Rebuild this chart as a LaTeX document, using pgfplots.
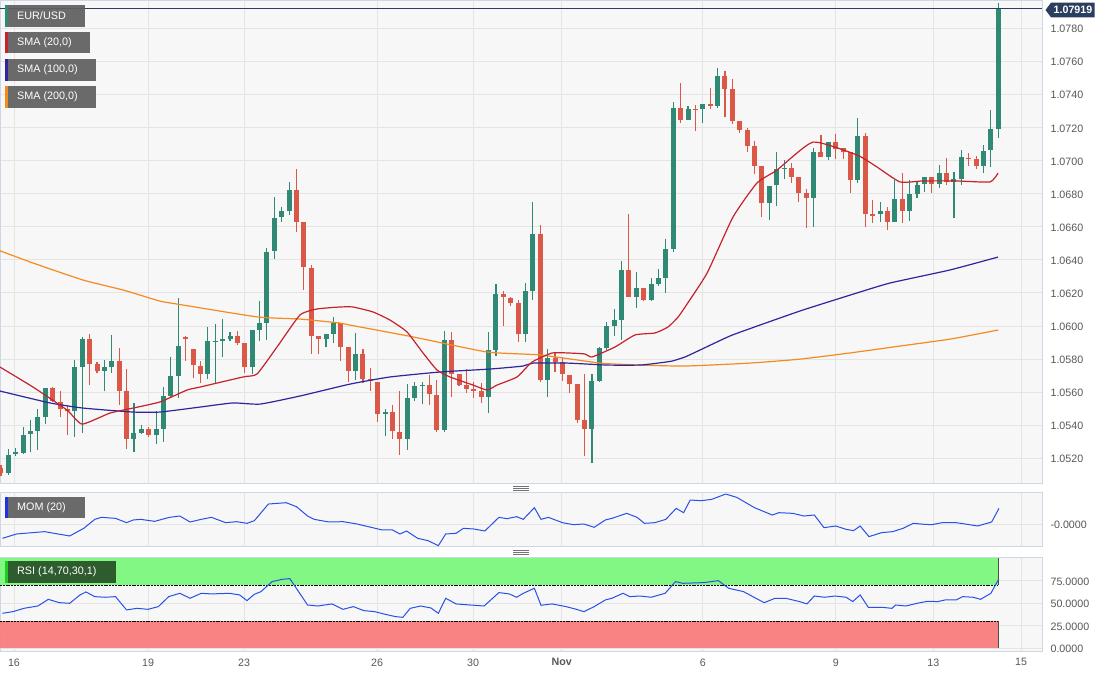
\documentclass[border=0pt]{standalone}
\usepackage{pgfplots}
\pgfplotsset{compat=1.18}
\usepackage{pgfplotstable}
\usepackage{fontspec}
\setmainfont{Liberation Sans}
\definecolor{bull}{RGB}{47,137,116}
\definecolor{bear}{RGB}{217,88,72}
\definecolor{smaA}{RGB}{196,34,44}
\definecolor{smaB}{RGB}{46,38,156}
\definecolor{smaC}{RGB}{245,138,31}
\definecolor{panelbg}{RGB}{247,247,247}
\definecolor{gridc}{RGB}{228,228,228}
\definecolor{framec}{RGB}{208,215,228}
\definecolor{tickc}{RGB}{88,88,88}
\definecolor{navy}{RGB}{44,62,94}
\definecolor{indblue}{RGB}{40,80,230}
\definecolor{boxgray}{RGB}{96,96,96}
\definecolor{rsigreen}{RGB}{125,248,125}
\definecolor{rsired}{RGB}{248,125,125}
\definecolor{rsibox}{RGB}{46,92,46}
\definecolor{rsistrip}{RGB}{30,205,30}
\definecolor{momstrip}{RGB}{30,50,235}

\pgfplotstableread{
k O H L C
1 1.05111 1.05256 1.05099 1.05220
2 1.05226 1.05262 1.05214 1.05238
3 1.05232 1.05389 1.05226 1.05341
4 1.05347 1.05432 1.05238 1.05365
5 1.05365 1.05498 1.05250 1.05450
6 1.05450 1.05625 1.05407 1.05625
10 1.05486 1.05794 1.05329 1.05752
11 1.05752 1.05934 1.05353 1.05921
14 1.05728 1.05794 1.05607 1.05752
15 1.05752 1.05946 1.05716 1.05788
18 1.05317 1.05535 1.05238 1.05353
19 1.05353 1.05401 1.05347 1.05377
21 1.05341 1.05486 1.05287 1.05377
22 1.05377 1.05631 1.05299 1.05577
23 1.05577 1.05813 1.05565 1.05698
24 1.05698 1.06169 1.05565 1.05879
28 1.05710 1.05994 1.05680 1.05909
29 1.05903 1.06012 1.05655 1.05909
30 1.05909 1.06042 1.05813 1.05921
31 1.05921 1.05964 1.05909 1.05940
34 1.05752 1.05976 1.05710 1.05976
35 1.05976 1.06151 1.05909 1.06018
36 1.06018 1.06472 1.05915 1.06447
37 1.06453 1.06780 1.06405 1.06653
38 1.06659 1.06719 1.06629 1.06695
39 1.06695 1.06871 1.06671 1.06822
44 1.05921 1.05952 1.05873 1.05952
45 1.05952 1.06054 1.05897 1.06018
48 1.05728 1.05958 1.05674 1.05831
52 1.05468 1.05498 1.05335 1.05480
55 1.05317 1.05649 1.05250 1.05565
56 1.05565 1.05661 1.05547 1.05637
57 1.05637 1.05661 1.05528 1.05643
60 1.05371 1.05970 1.05359 1.05915
66 1.05571 1.05964 1.05474 1.05855
67 1.05855 1.06254 1.05819 1.06193
71 1.05952 1.06260 1.05903 1.06212
72 1.06212 1.06750 1.06157 1.06556
74 1.05674 1.05861 1.05571 1.05806
80 1.05377 1.05710 1.05172 1.05667
81 1.05667 1.05873 1.05661 1.05867
82 1.05867 1.06024 1.05855 1.06000
83 1.06000 1.06103 1.05940 1.06036
84 1.06036 1.06393 1.05915 1.06339
86 1.06175 1.06326 1.06109 1.06230
88 1.06157 1.06290 1.06151 1.06254
89 1.06254 1.06345 1.06242 1.06290
90 1.06290 1.06526 1.06200 1.06466
91 1.06466 1.07354 1.06447 1.07318
93 1.07245 1.07330 1.07245 1.07312
95 1.07312 1.07342 1.07227 1.07342
97 1.07330 1.07560 1.07318 1.07512
104 1.06744 1.06846 1.06641 1.06846
105 1.06852 1.07052 1.06726 1.06949
106 1.06949 1.07004 1.06889 1.06955
110 1.06774 1.07076 1.06599 1.07052
112 1.07022 1.07112 1.07004 1.07112
116 1.06883 1.07258 1.06865 1.07149
119 1.06677 1.06750 1.06629 1.06695
121 1.06629 1.06883 1.06629 1.06768
123 1.06695 1.06883 1.06635 1.06798
124 1.06798 1.06877 1.06774 1.06852
125 1.06859 1.06901 1.06810 1.06901
127 1.06859 1.06973 1.06834 1.06925
129 1.06871 1.06931 1.06653 1.06889
130 1.06889 1.07064 1.06852 1.07022
133 1.06967 1.07094 1.06925 1.07058
134 1.07064 1.07306 1.06961 1.07191
135 1.07191 1.07955 1.07137 1.07919
}\bulltab

\pgfplotstableread{
k O H L C
0 1.05142 1.05160 1.05093 1.05111
7 1.05625 1.05631 1.05541 1.05547
8 1.05541 1.05607 1.05450 1.05498
9 1.05498 1.05522 1.05341 1.05486
12 1.05921 1.05952 1.05643 1.05770
13 1.05770 1.05782 1.05716 1.05728
16 1.05788 1.05867 1.05522 1.05607
17 1.05607 1.05740 1.05256 1.05317
20 1.05377 1.05389 1.05329 1.05341
25 1.05934 1.05940 1.05788 1.05921
26 1.05861 1.05861 1.05686 1.05764
27 1.05758 1.05788 1.05655 1.05710
32 1.05940 1.05970 1.05885 1.05897
33 1.05897 1.05897 1.05716 1.05752
40 1.06822 1.06949 1.06568 1.06629
41 1.06629 1.06629 1.06218 1.06357
42 1.06351 1.06369 1.05831 1.05940
43 1.05940 1.05940 1.05831 1.05921
46 1.06018 1.06018 1.05788 1.05873
47 1.05873 1.05873 1.05661 1.05728
49 1.05831 1.05861 1.05655 1.05680
50 1.05680 1.05746 1.05607 1.05667
51 1.05661 1.05661 1.05420 1.05468
53 1.05480 1.05522 1.05317 1.05365
54 1.05359 1.05607 1.05220 1.05317
58 1.05643 1.05704 1.05522 1.05589
59 1.05583 1.05674 1.05359 1.05371
61 1.05915 1.05964 1.05571 1.05710
62 1.05710 1.05710 1.05637 1.05643
63 1.05643 1.05740 1.05595 1.05619
64 1.05619 1.05661 1.05565 1.05607
65 1.05607 1.05655 1.05535 1.05571
68 1.06193 1.06212 1.06000 1.06175
69 1.06169 1.06175 1.06121 1.06139
70 1.06139 1.06157 1.05903 1.05952
73 1.06556 1.06611 1.05661 1.05674
75 1.05806 1.05837 1.05722 1.05782
76 1.05782 1.05813 1.05667 1.05710
77 1.05704 1.05704 1.05595 1.05649
78 1.05649 1.05649 1.05414 1.05432
79 1.05432 1.05710 1.05214 1.05377
85 1.06339 1.06677 1.06175 1.06175
87 1.06230 1.06230 1.06151 1.06157
92 1.07318 1.07469 1.07227 1.07245
94 1.07312 1.07336 1.07179 1.07306
96 1.07342 1.07439 1.07312 1.07330
98 1.07512 1.07542 1.07264 1.07433
99 1.07433 1.07493 1.07221 1.07239
100 1.07239 1.07239 1.07167 1.07185
101 1.07185 1.07197 1.07052 1.07088
102 1.07088 1.07119 1.06919 1.06967
103 1.06967 1.06967 1.06659 1.06744
107 1.06955 1.06986 1.06865 1.06901
108 1.06901 1.06901 1.06750 1.06804
109 1.06804 1.06828 1.06593 1.06774
111 1.07052 1.07155 1.07022 1.07022
113 1.07112 1.07161 1.07010 1.07070
114 1.07076 1.07076 1.07010 1.07052
115 1.07052 1.07052 1.06804 1.06883
117 1.07149 1.07167 1.06599 1.06677
118 1.06677 1.06762 1.06623 1.06665
120 1.06695 1.06719 1.06580 1.06629
122 1.06768 1.06925 1.06623 1.06695
126 1.06901 1.06901 1.06804 1.06859
128 1.06925 1.07016 1.06852 1.06871
131 1.07016 1.07046 1.06967 1.07010
132 1.07010 1.07028 1.06949 1.06967
}\beartab

\pgfplotsset{
  panel/.style={
    scale only axis, width=1042pt,
    xmin=-0.135, xmax=140.92,
    axis background/.style={fill=panelbg},
    axis line style={draw=framec, line width=0.8pt},
    xmajorgrids, ymajorgrids,
    major grid style={draw=gridc, line width=0.9pt},
    xtick={1.76,19.9,32.9,50.9,63.9,75.9,95.0,113.0,126.2,138.1},
    major tick length=0pt,
    ticklabel style={font=\fontsize{10.7}{12}\selectfont, text=tickc},
    yticklabel pos=right,
    yticklabel style={anchor=west, xshift=5pt, yshift=-0.8pt},
    scaled ticks=false,
    /pgf/number format/assume math mode=true,
    clip=true,
  },
  candle/.style={draw=none, mark=none, forget plot,
    error bars/y dir=plus, error bars/y explicit, error bars/error mark=none},
}

\begin{document}
\begin{tikzpicture}[x=1pt,y=1pt]
\useasboundingbox[fill=white] (0pt,0pt) rectangle (1113pt,675pt);

% ---------------- main price panel ----------------
\begin{axis}[panel, at={(0pt,192pt)}, anchor=south west, height=483pt,
  ymin=1.05051, ymax=1.07971,
  ytick={1.052,1.054,1.056,1.058,1.060,1.062,1.064,1.066,1.068,1.070,1.072,1.074,1.076,1.078},
  xticklabels={},
  yticklabel style={/pgf/number format/.cd, fixed, fixed zerofill, precision=4},
]
% wicks
\addplot[candle, error bars/error bar style={draw=bull, line width=1.1pt}]
  table[x=k, y=L, y error plus expr={\thisrow{H}-\thisrow{L}}] {\bulltab};
\addplot[candle, error bars/error bar style={draw=bear, line width=1.1pt}]
  table[x=k, y=L, y error plus expr={\thisrow{H}-\thisrow{L}}] {\beartab};
% bodies
\addplot[candle, error bars/error bar style={draw=bull, line width=5pt}]
  table[x=k, y=O, y error plus expr={max(\thisrow{C}-\thisrow{O},0.00004)}] {\bulltab};
\addplot[candle, error bars/error bar style={draw=bear, line width=5pt}]
  table[x=k, y=C, y error plus expr={max(\thisrow{O}-\thisrow{C},0.00004)}] {\beartab};

% SMA 200
\addplot[smaC, line width=1.2pt, smooth, tension=0.3] coordinates {
(-0.14,1.06455)(4.33,1.06381)(11.1,1.06278)(16.5,1.06218)(21.5,1.06151)(23.8,1.06133)
(34.7,1.06055)(40.5,1.06042)(45.9,1.06018)(47.2,1.06006)(55.8,1.05934)(65.8,1.05843)
(73.0,1.05825)(81.1,1.05776)(86.5,1.05764)(92.6,1.05758)(101.4,1.05776)(108.2,1.05800)
(114.9,1.05837)(121.7,1.05879)(128.5,1.05921)(135,1.05976)};
% SMA 100
\addplot[smaB, line width=1.2pt, smooth, tension=0.3] coordinates {
(-0.14,1.05607)(6.63,1.05535)(11.1,1.05504)(17.87,1.05480)(21.52,1.05480)(26.94,1.05510)
(31.4,1.05535)(35.06,1.05528)(40.48,1.05577)(47.25,1.05649)(52.66,1.05692)(59.43,1.05722)
(66.2,1.05740)(70.67,1.05758)(72.02,1.05776)(76.62,1.05776)(82.04,1.05764)(86.5,1.05764)
(88.94,1.05776)(90.83,1.05788)(92.6,1.05813)(94.63,1.05855)(98.69,1.05940)(102.75,1.06006)
(108.57,1.06097)(115.88,1.06200)(120.35,1.06260)(128.47,1.06339)(134.97,1.06417)};
% SMA 20
\addplot[smaA, line width=1.2pt, smooth, tension=0.3] coordinates {
(-0.14,1.05752)(4.33,1.05631)(8.93,1.05492)(10.97,1.05407)(14.76,1.05474)(17.87,1.05504)
(21.52,1.05541)(25.18,1.05613)(26.94,1.05631)(32.76,1.05692)(34.66,1.05710)(37.36,1.05873)
(40.48,1.06067)(42.78,1.06103)(45.89,1.06115)(47.65,1.06115)(50.36,1.06085)(52.66,1.06036)
(54.96,1.05964)(57.13,1.05837)(59.02,1.05734)(60.78,1.05692)(63.9,1.05643)(65.79,1.05613)
(67.14,1.05643)(69.85,1.05692)(71.88,1.05782)(74.59,1.05837)(76.76,1.05837)(79.06,1.05831)
(80.0,1.05813)(83.11,1.05873)(85.83,1.05946)(88.53,1.05958)(90.29,1.05994)(91.65,1.06054)
(92.6,1.06115)(95.58,1.06320)(99.09,1.06659)(102.34,1.06865)(105.05,1.06943)(109.92,1.07112)
(115.88,1.07034)(118.59,1.06961)(121.7,1.06871)(124.81,1.06877)(129.41,1.06877)(133.88,1.06871)
(134.97,1.06925)};
% current price line
\addplot[navy, line width=1pt] coordinates {(-0.135,1.07919)(140.92,1.07919)};
\end{axis}

% ---------------- momentum panel ----------------
\begin{axis}[panel, at={(0pt,128.3pt)}, anchor=south west, height=54pt,
  ymin=-0.01453, ymax=0.02003,
  ytick={0}, yticklabels={-0.0000}, xticklabels={},
]
\addplot[indblue, line width=1pt] coordinates {
(0.2,-0.00916)(2.1,-0.00639)(5.9,-0.0049)(9.3,-0.00767)(11.2,-0.00277)(12.7,0.00298)(13.6,0.00426)
(15.5,0.00362)(17.0,0.00085)(17.9,0.00256)(18.9,0.00298)(20.8,0.0017)(22.8,0.00426)(24.2,0.00511)
(25.6,0.00128)(27.1,0.00298)(28.5,0.00426)(30.4,0.00085)(31.9,0.00149)(33.3,0.00043)(34.3,0.00213)
(36.2,0.01278)(38.6,0.01363)(40.0,0.01108)(41.5,0.00511)(42.4,0.00298)(44.4,0.00128)(46.3,0.00149)
(48.2,0)(50.1,-0.00213)(51.6,-0.00383)(53.0,-0.00383)(54.0,-0.00639)(54.9,-0.00447)(56.4,-0.00916)
(57.8,-0.01065)(59.2,-0.01385)(60.2,-0.00639)(61.6,-0.00596)(62.6,-0.00277)(64.0,-0.0032)(65.5,-0.00447)
(67.4,0.00426)(68.5,0.00341)(69.8,0.00469)(70.7,0.00298)(72.2,0.01044)(73.1,0.00298)(74.1,0.00426)
(76.0,0.00085)(77.5,-0.00043)(78.9,0)(80.3,-0.00213)(81.8,0.00256)(82.7,0.00362)(84.7,0.00682)
(86.1,0.00426)(87.1,0.00043)(88.5,0.00085)(90.0,0.00298)(91.4,0.01001)(92.4,0.00724)(93.3,0.01534)
(94.8,0.01491)(96.2,0.01576)(98.1,0.01917)(99.6,0.01704)(102.0,0.01044)(104.4,0.00575)(105.3,0.00724)
(107.2,0.00682)(108.7,0.00511)(110.1,0.00575)(111.4,-0.00234)(113.0,-0.00128)(114.4,-0.00341)
(115.4,-0.00426)(116.3,-0.00128)(117.5,-0.00809)(119.2,-0.00554)(120.7,-0.0049)(122.1,-0.00277)
(123.5,0.00043)(125.0,-0.00021)(126.0,-0.00043)(127.4,0.00085)(129.3,0.00085)(130.8,-0.00021)
(132.2,-0.00128)(134.1,0.00128)(135.1,0.01001)};
\end{axis}

% ---------------- RSI panel ----------------
\begin{axis}[panel, at={(0pt,24pt)}, anchor=south west, height=93.7pt,
  ymin=-3, ymax=101.1,
  ytick={0,25,50,75},
  yticklabel style={/pgf/number format/.cd, fixed, fixed zerofill, precision=4},
  xticklabels={16,19,23,26,30,\textbf{Nov},6,9,13,15},
  xticklabel style={anchor=north, yshift=-4pt},
]
\fill[rsigreen, fill opacity=0.95] (axis cs:-0.135,70) rectangle (axis cs:135,100);
\fill[rsired, fill opacity=0.95] (axis cs:-0.135,0) rectangle (axis cs:135,30);
\draw[black, line width=0.6pt, dash pattern=on 2pt off 0.8pt] (axis cs:-0.135,70) -- (axis cs:135,70);
\draw[black, line width=0.6pt, dash pattern=on 2pt off 0.8pt] (axis cs:-0.135,30) -- (axis cs:135,30);
\draw[black!70, line width=0.6pt] (axis cs:135,70) -- (axis cs:135,100);
\draw[black!70, line width=0.6pt] (axis cs:135,0) -- (axis cs:135,30);
\addplot[indblue, line width=1pt] coordinates {
(0.2,38.9)(1.6,40.7)(3.1,44.4)(5.0,47.0)(6.4,54.4)(7.9,50.7)(9.3,50.0)(10.7,59.3)(11.5,62.6)
(12.7,57.4)(14.1,56.7)(15.5,57.4)(17.0,42.6)(18.4,44.4)(19.9,43.3)(21.3,46.3)(22.7,57.4)(24.2,61.1)
(25.6,55.6)(27.1,61.1)(28.5,60.4)(30.9,61.1)(32.3,59.3)(33.3,53.0)(34.3,60.0)(35.2,63.0)(36.7,74.1)
(38.1,76.7)(39.1,77.4)(41.5,48.1)(42.9,47.0)(44.8,49.3)(46.3,43.3)(47.7,46.3)(49.1,41.9)(50.6,40.7)
(52.0,37.8)(53.4,35.2)(54.4,34.4)(55.4,44.4)(56.8,47.0)(58.2,44.8)(59.2,38.9)(60.2,55.6)(61.6,49.3)
(63.5,48.1)(65.4,47.0)(67.4,61.9)(68.8,60.4)(69.8,56.7)(70.7,61.1)(72.2,66.7)(73.1,47.8)(74.6,49.3)
(76.5,46.3)(77.9,43.3)(78.9,40.7)(80.3,46.3)(81.8,53.7)(82.7,55.6)(84.2,61.1)(85.1,57.4)(86.5,58.1)
(88.0,56.7)(89.9,61.1)(91.3,74.1)(92.3,72.2)(95.2,73.0)(97.1,75.2)(98.5,66.7)(100.5,63.0)(103.3,50.7)
(104.8,55.6)(106.2,55.6)(108.1,51.9)(109.1,49.3)(110.1,58.1)(111.5,56.7)(112.9,58.1)(114.4,56.7)
(115.3,51.9)(116.3,59.3)(117.4,45.6)(119.2,45.6)(120.6,44.4)(121.1,48.1)(122.5,47.0)(124.0,50.0)
(125.4,52.2)(126.8,51.9)(127.8,53.7)(129.3,53.7)(130.2,57.4)(131.6,56.7)(132.6,54.4)(134.0,61.1)
(135.0,75.9)};
\end{axis}

% ---------------- overlays: labels ----------------
\tikzset{lbl/.style={anchor=west, text=white, inner sep=0pt, font=\fontsize{10.8}{12}\selectfont}}
% EUR/USD
\fill[boxgray, fill opacity=0.93] (5,648.3) rectangle (85,670);
\fill[bull] (5,648.3) rectangle (7.6,670);
\node[lbl] at (17,659.2) {EUR/USD};
% SMA 20
\fill[boxgray, fill opacity=0.93] (5,621.7) rectangle (90,643.3);
\fill[smaA] (5,621.7) rectangle (7.6,643.3);
\node[lbl] at (17,632.5) {SMA (20,0)};
% SMA 100
\fill[boxgray, fill opacity=0.93] (5,594.3) rectangle (96,616);
\fill[smaB] (5,594.3) rectangle (7.6,616);
\node[lbl] at (17,605.2) {SMA (100,0)};
% SMA 200
\fill[boxgray, fill opacity=0.93] (5,567.3) rectangle (96,589);
\fill[smaC] (5,567.3) rectangle (7.6,589);
\node[lbl] at (17,578.2) {SMA (200,0)};
% MOM
\fill[boxgray, fill opacity=0.93] (5,156.7) rectangle (85,178.3);
\fill[momstrip] (5,156.7) rectangle (7.6,178.3);
\node[lbl] at (17,167.5) {MOM (20)};
% RSI
\fill[rsibox] (5,92.3) rectangle (116,114);
\fill[rsistrip] (5,92.3) rectangle (7.6,114);
\node[lbl] at (17,103.2) {RSI (14,70,30,1)};

% current price tag
\fill[navy] (1045.5,665) -- (1051,672.3) -- (1094.5,672.3) -- (1094.5,657.7) -- (1051,657.7) -- cycle;
\node[text=white, inner sep=0pt, font=\bfseries\fontsize{10.7}{12}\selectfont] at (1073,665) {1.07919};

% panel separators
\foreach \yy in {188.5,186.5,184.5,125,123,121}
  \draw[black!55, line width=0.8pt] (513,\yy) -- (529,\yy);
\end{tikzpicture}
\end{document}
